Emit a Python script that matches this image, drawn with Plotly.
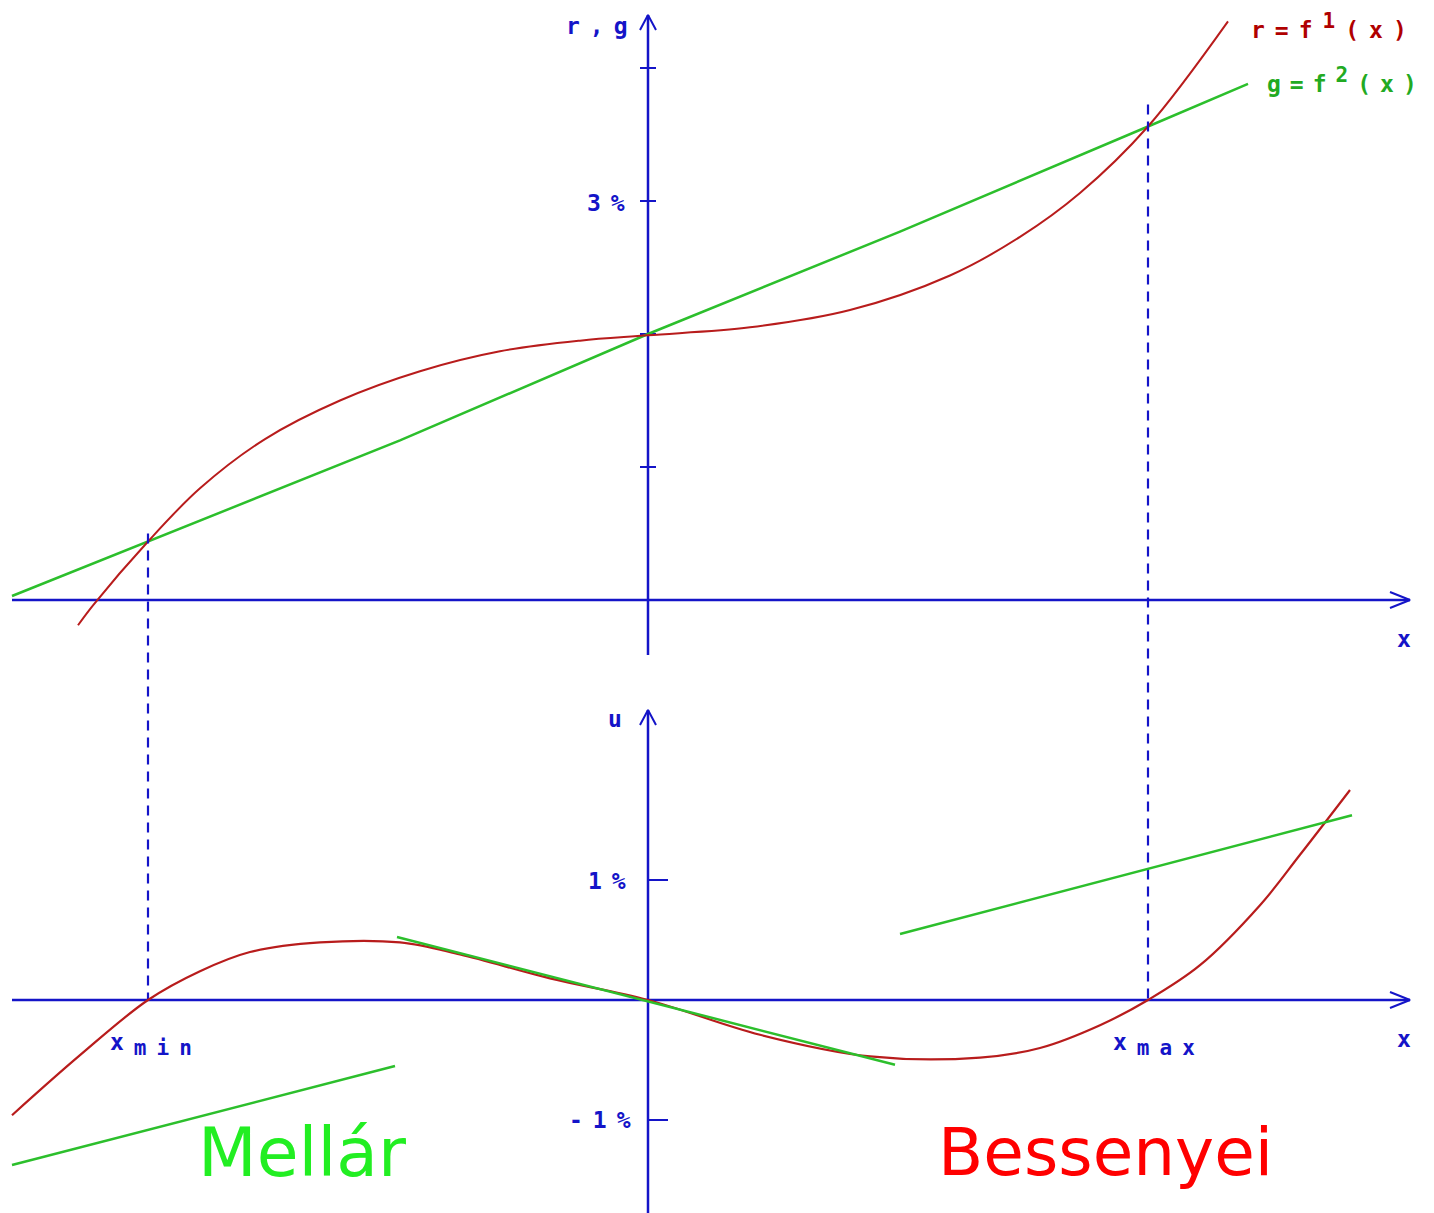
import plotly.graph_objects as go

# ---------------- data ----------------
# upper panel: r = f1(x) (red) and g = f2(x) (green), in %
x_g_top = [-6.36, -5.0, -2.48, 0.0, 2.52, 5.0, 6.0]
g_top = [0.03, 0.44, 1.20, 2.0, 2.77, 3.56, 3.88]

x_r_top = [-5.70, -5.55, -5.0, -4.48, -3.83, -3.08, -2.28, -1.48, -0.68, 0.0,
           1.02, 2.02, 3.02, 3.72, 4.32, 5.0, 5.8]
r_top = [-0.19, -0.04, 0.44, 0.84, 1.21, 1.50, 1.72, 1.87, 1.95, 1.99,
         2.05, 2.18, 2.44, 2.73, 3.06, 3.56, 4.35]

# lower panel: u (red) and three straight green lines, in %
x_u = [-6.36, -5.68, -5.0, -4.48, -3.98, -3.28, -2.48, -1.88, -0.98, 0.0,
       1.12, 2.22, 3.32, 3.92, 4.52, 5.0, 5.52, 6.12, 6.52, 7.02]
u_red = [-0.96, -0.46, 0.0, 0.24, 0.40, 0.48, 0.48, 0.38, 0.18, 0.0,
         -0.29, -0.47, -0.48, -0.40, -0.21, 0.0, 0.29, 0.79, 1.21, 1.75]

x_seg1 = [-6.36, -2.53]
u_seg1 = [-1.375, -0.55]
x_seg2 = [-2.51, 2.47]
u_seg2 = [0.525, -0.54]
x_seg3 = [2.52, 7.04]
u_seg3 = [0.55, 1.54]

x_min, x_max = -5.0, 5.0
g_at_min, g_at_max = 0.44, 3.56

top_ticks = [1, 2, 3, 4]
bottom_ticks = [-1, 1]

# ---------------- layout geometry ----------------
W, H = 1434, 1213
X0_PX = 648          # pixel column of the vertical axes
PX_X = 100.0         # pixels per x unit
Y0_PX, PX_Y = 600, 133.0    # upper panel origin row, pixels per %
U0_PX, PX_U = 1000, 120.0   # lower panel origin row, pixels per %

x_range = [-X0_PX / PX_X, (W - X0_PX) / PX_X]
y_range = [(Y0_PX - H) / PX_Y, Y0_PX / PX_Y]
u_range = [(U0_PX - H) / PX_U, U0_PX / PX_U]


def top_to_u(v):
    """Convert an upper-panel value to the lower panel's scale (same row)."""
    py = Y0_PX - v * PX_Y
    return (U0_PX - py) / PX_U


BLUE = "#1414c8"
RED = "#b81c1c"
GREEN = "#2cbf2c"

fig = go.Figure()


def line(xs, ys, color, width, axis="y", dash=None, shape="linear"):
    fig.add_trace(go.Scatter(
        x=xs, y=ys, mode="lines", yaxis=axis, hoverinfo="skip",
        line=dict(color=color, width=width, dash=dash, shape=shape),
        showlegend=False))


# axes extents
ax_left = -6.36
ax_right = 7.62
dx_arrow = 20 / PX_X

# upper panel axes
line([ax_left, ax_right], [0, 0], BLUE, 2.5)
line([0, 0], [-55 / PX_Y, 585 / PX_Y], BLUE, 2.5)
line([ax_right - dx_arrow, ax_right, ax_right - dx_arrow],
     [8 / PX_Y, 0, -8 / PX_Y], BLUE, 2)
tip = 585 / PX_Y
line([-8 / PX_X, 0, 8 / PX_X], [tip - 15 / PX_Y, tip, tip - 15 / PX_Y], BLUE, 2)
for t in top_ticks:
    line([-8 / PX_X, 8 / PX_X], [t, t], BLUE, 2)

# lower panel axes
line([ax_left, ax_right], [0, 0], BLUE, 2.5, axis="y2")
line([0, 0], [u_range[0], 290 / PX_U], BLUE, 2.5, axis="y2")
line([ax_right - dx_arrow, ax_right, ax_right - dx_arrow],
     [8 / PX_U, 0, -8 / PX_U], BLUE, 2, axis="y2")
tipu = 290 / PX_U
line([-8 / PX_X, 0, 8 / PX_X], [tipu - 15 / PX_U, tipu, tipu - 15 / PX_U],
     BLUE, 2, axis="y2")
for t in bottom_ticks:
    line([0, 20 / PX_X], [t, t], BLUE, 2, axis="y2")

# dashed guide lines (x_min, x_max), drawn on the lower panel's scale
line([x_min, x_min], [top_to_u(g_at_min + 8 / PX_Y), 0], BLUE, 2.2,
     axis="y2", dash="10px,7px")
line([x_max, x_max], [top_to_u(g_at_max + 22 / PX_Y), 0], BLUE, 2.2,
     axis="y2", dash="10px,7px")

# curves, upper panel
line(x_g_top, g_top, GREEN, 2.5)
line(x_r_top, r_top, RED, 2, shape="spline")

# curves, lower panel
line(x_u, u_red, RED, 2.2, axis="y2", shape="spline")
line(x_seg1, u_seg1, GREEN, 2.5, axis="y2")
line(x_seg2, u_seg2, GREEN, 2.5, axis="y2")
line(x_seg3, u_seg3, GREEN, 2.5, axis="y2")

# ---------------- text labels ----------------
MONO = "DejaVu Sans Mono"
FS = 23


def spaced(t, ls=10):
    return '<span style="letter-spacing:%dpx">%s</span>' % (ls, t)


def big(t, size=FS):
    return '<span style="font-size:%dpx">%s</span>' % (size, t)


def label(text, px, py, color=BLUE, size=FS, family=MONO, weight="bold",
          xanchor="center"):
    fig.add_annotation(text=text, x=px / W, y=1 - py / H, xref="paper",
                       yref="paper", showarrow=False, xanchor=xanchor,
                       yanchor="middle",
                       font=dict(family=family, size=size, color=color,
                                 weight=weight))


label(spaced("r,g"), 602, 26)
label(spaced("3%"), 611, 203)
label(spaced("x"), 1409, 639)
label(spaced("u"), 620, 719)
label(spaced("1%"), 612, 881)
label(spaced("-1%"), 605, 1120)
label(spaced("x"), 1409, 1039)
label(spaced("x<sub>" + big("min", 21) + "</sub>"), 156, 1044)
label(spaced("x<sub>" + big("max", 21) + "</sub>"), 1159, 1044)
label(spaced("r=f<sup>" + big("1", 21) + "</sup>(x)"), 1334, 26,
      color="#b00000")
label(spaced("g=f<sup>" + big("2", 21) + "</sup>(x)", 9), 1346, 80,
      color="#22aa22")
label("Mellár", 302, 1152, color="#22ee22", size=68, family="DejaVu Sans",
      weight="normal")
label("Bessenyei", 1105, 1152, color="#ff0000", size=66, family="DejaVu Sans",
      weight="normal")

fig.update_layout(
    width=W, height=H,
    margin=dict(l=0, r=0, t=0, b=0),
    paper_bgcolor="white", plot_bgcolor="white",
    showlegend=False,
    xaxis=dict(range=x_range, visible=False, fixedrange=True),
    yaxis=dict(range=y_range, visible=False, domain=[0, 1], fixedrange=True),
    yaxis2=dict(range=u_range, visible=False, overlaying="y", fixedrange=True),
)

fig.write_html("out.html", config={"displayModeBar": False},
               post_script="document.body.style.margin='0';")
